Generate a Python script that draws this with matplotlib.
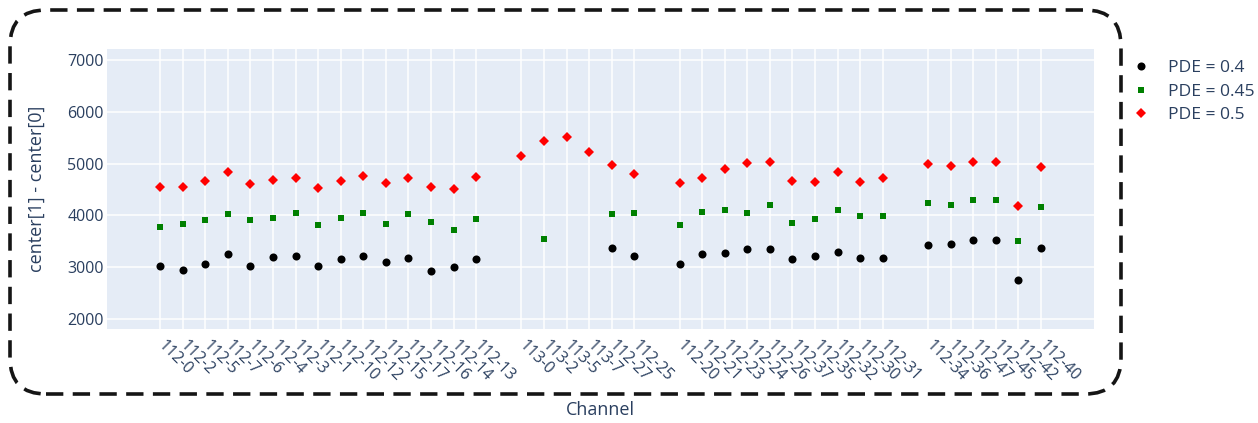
import numpy as np
import matplotlib.pyplot as plt
from matplotlib.patches import FancyBboxPatch

plt.rcParams['font.family'] = ['Open Sans', 'DejaVu Sans']

# Channels, grouped by readout board; groups are separated by an empty slot
channel_groups = [
    ["112-0", "112-2", "112-5", "112-7", "112-6", "112-4", "112-3", "112-1",
     "112-10", "112-12", "112-15", "112-17", "112-16", "112-14", "112-13"],
    ["113-0", "113-2", "113-5", "113-7", "112-27", "112-25"],
    ["112-20", "112-21", "112-23", "112-24", "112-26", "112-37", "112-35",
     "112-32", "112-30", "112-31"],
    ["112-34", "112-36", "112-47", "112-45", "112-42", "112-40"],
]

nan = np.nan
pde_040 = [3030, 2945, 3060, 3250, 3030, 3195, 3220, 3015, 3165, 3215, 3100, 3185, 2925, 3010, 3155,
           nan, nan, nan, nan, 3375, 3220,
           3060, 3255, 3280, 3355, 3350, 3165, 3215, 3300, 3180, 3185,
           3430, 3450, 3520, 3525, 2755, 3375]
pde_045 = [3770, 3830, 3915, 4020, 3910, 3945, 4045, 3820, 3950, 4040, 3835, 4020, 3880, 3720, 3930,
           nan, 3545, nan, nan, 4025, 4050,
           3820, 4070, 4100, 4050, 4195, 3855, 3925, 4105, 3985, 3995,
           4240, 4195, 4290, 4290, 3505, 4170]
pde_050 = [4555, 4555, 4670, 4840, 4600, 4680, 4730, 4520, 4665, 4760, 4620, 4730, 4555, 4505, 4735,
           5150, 5440, 5520, 5225, 4965, 4795,
           4630, 4715, 4890, 5005, 5035, 4670, 4645, 4830, 4645, 4715,
           5000, 4955, 5035, 5035, 4185, 4930]

series = [
    ("PDE = 0.4", pde_040, "o", "black", 5.8),
    ("PDE = 0.45", pde_045, "s", "green", 5.0),
    ("PDE = 0.5", pde_050, "D", "red", 4.8),
]

# x positions: consecutive slots within a group, one blank slot between groups
labels, xpos = [], []
slot = 0
for g in channel_groups:
    for name in g:
        labels.append(name)
        xpos.append(slot)
        slot += 1
    slot += 1

W, H = 1258, 423
fig = plt.figure(figsize=(W / 100, H / 100), dpi=100)
left, right, top, bottom = 106.7, 1094, 49.3, 329
ax = fig.add_axes([left / W, 1 - bottom / H, (right - left) / W, (bottom - top) / H])

text_col = "#2a3f5f"
ax.set_facecolor("#E5ECF6")
for s in ax.spines.values():
    s.set_visible(False)

for name, vals, mk, col, ms in series:
    ax.plot(xpos, vals, linestyle="none", marker=mk, color=col, markersize=ms,
            markeredgewidth=0, label=name, zorder=3)

ax.set_xlim(-2.36, xpos[-1] + 2.35)
ax.set_ylim(1807, 7207)
ax.set_yticks([2000, 3000, 4000, 5000, 6000, 7000])
ax.set_xticks(xpos)
ax.set_xticklabels(labels, rotation=-45, ha="left", va="center", rotation_mode="anchor")
ax.tick_params(axis="both", length=0, labelsize=11.5, labelcolor=text_col)
ax.tick_params(axis="x", pad=10)
ax.tick_params(axis="y", pad=2)
ax.grid(True, color="white", linewidth=1.1)
ax.set_axisbelow(True)

fig.text(37 / W, 1 - 189 / H, "center[1] - center[0]", rotation=90, ha="center", va="center",
         fontsize=13, color=text_col)
fig.text(600 / W, 1 - 410 / H, "Channel", ha="center", va="center", fontsize=13, color=text_col)

leg = ax.legend(loc="upper left", bbox_to_anchor=(1130 / W, 1 - 60 / H),
                bbox_transform=fig.transFigure, frameon=False, fontsize=12.6,
                handlelength=1.2, handletextpad=1.0, labelspacing=0.42, borderpad=0,
                borderaxespad=0)
for t in leg.get_texts():
    t.set_color(text_col)

# dashed rounded frame around the plotting region
frame = FancyBboxPatch((10, H - 394), 1111, 384,
                       boxstyle="round,pad=0,rounding_size=36",
                       transform=None, fill=False, edgecolor="#151515",
                       linewidth=2.6, linestyle=(0, (4.8, 2.6)))
fig.patches.append(frame)

fig.savefig("out.png", dpi=100)
